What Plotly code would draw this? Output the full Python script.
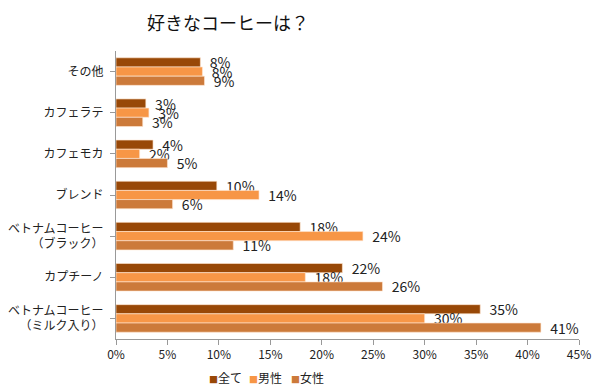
import plotly.graph_objects as go

categories = ["その他", "カフェラテ", "カフェモカ", "ブレンド",
              "ベトナムコーヒー<br>（ブラック）", "カプチーノ",
              "ベトナムコーヒー<br>（ミルク入り）"]
all_vals = [0.082, 0.029, 0.036, 0.098, 0.179, 0.220, 0.354]
male_vals = [0.084, 0.032, 0.023, 0.139, 0.240, 0.184, 0.300]
female_vals = [0.086, 0.026, 0.050, 0.055, 0.114, 0.259, 0.413]
series = [("全て", all_vals, "#984807"),
          ("男性", male_vals, "#F79646"),
          ("女性", female_vals, "#CC7A3A")]
x_ticks = [0, 0.05, 0.10, 0.15, 0.20, 0.25, 0.30, 0.35, 0.40, 0.45]

FONT = "Noto Sans CJK JP"
fig = go.Figure()
for name, vals, color in series:
    fig.add_trace(go.Bar(
        y=categories, x=vals, name=name, orientation="h", showlegend=False,
        marker=dict(color=color, line=dict(color="rgba(255,230,210,0.8)", width=0.8)),
        text=vals, texttemplate="\u00a0\u00a0%{x:.0%}", textposition="outside",
        constraintext="none", cliponaxis=False,
        textfont=dict(size=14, color="#222", family=FONT),
    ))

# legend drawn as a row of annotations built from the series list
legend_x = [0.196, 0.284, 0.374]
for (name, vals, color), lx in zip(series, legend_x):
    fig.add_annotation(
        xref="paper", yref="paper", x=lx, y=-0.135, xanchor="left", yanchor="middle",
        text=f'<span style="color:{color};font-size:9px">■</span>{name}',
        showarrow=False, font=dict(size=12, color="#222", family=FONT),
    )

fig.update_layout(
    width=600, height=390,
    barmode="group", bargap=0.33, bargroupgap=0,
    paper_bgcolor="white", plot_bgcolor="white",
    margin=dict(l=116, r=21, t=51, b=51, autoexpand=False),
    font=dict(family=FONT, size=12, color="#222"),
    title=dict(text="好きなコーヒーは？", x=0.38, xanchor="center", y=0.94,
               yanchor="middle", font=dict(size=18, color="#111", family=FONT)),
    xaxis=dict(range=[0, 0.45], tickvals=x_ticks, tickformat=".0%",
               showgrid=False, zeroline=False, showline=True, linecolor="#999",
               ticks="outside", ticklen=5, tickcolor="#999", automargin=False,
               tickfont=dict(size=12, color="#222")),
    yaxis=dict(autorange="reversed", showgrid=False, showline=True, linecolor="#999",
               ticks="outside", ticklen=5, tickcolor="#999", automargin=False,
               ticklabelstandoff=4,
               tickfont=dict(size=12, color="#222")),
)
fig.write_html("out.html", config={"displayModeBar": False},
               post_script="document.body.style.margin='0';")
